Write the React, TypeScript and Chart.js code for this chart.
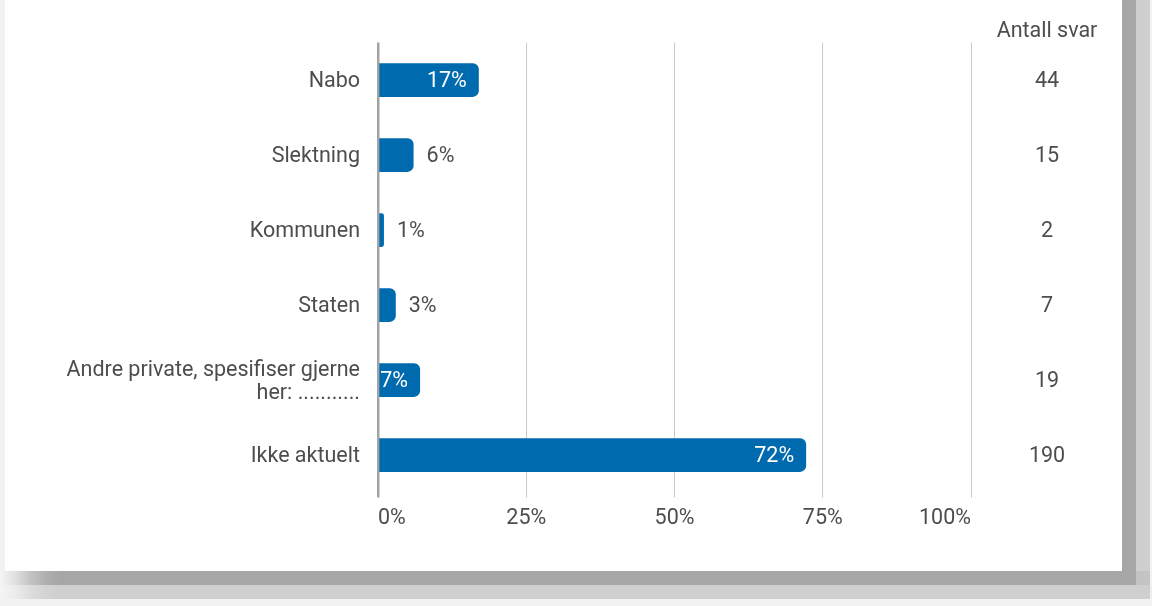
import React, { useEffect, useRef } from "react";
import { Chart, registerables } from "chart.js";

Chart.register(...registerables);

const categories: (string | string[])[] = [
  "Nabo",
  "Slektning",
  "Kommunen",
  "Staten",
  ["Andre private, spesifiser gjerne", "her: ..........."],
  "Ikke aktuelt",
];
const percentValues = [17.0, 6.0, 1.0, 3.0, 7.1, 72.2];
const percentLabels = ["17%", "6%", "1%", "3%", "7%", "72%"];
const answerCounts = [44, 15, 2, 7, 19, 190];
const countHeader = "Antall svar";
const xTicks = [0, 25, 50, 75, 100];

const TEXT = "#4d4d4d";
const BAR = "#006aae";
const FONT = "Roboto";
const FS = 21.5;
const DY = 2;

const labelPlugin = {
  id: "valueLabels",
  afterDatasetsDraw(chart: any) {
    const ctx = chart.ctx;
    const meta = chart.getDatasetMeta(0);
    ctx.save();
    ctx.font = `${FS}px ${FONT}`;
    ctx.textBaseline = "middle";
    meta.data.forEach((bar: any, i: number) => {
      const v = percentValues[i];
      const txt = percentLabels[i];
      const { x, y } = bar.getProps(["x", "y"], true);
      if (v >= 7) {
        ctx.fillStyle = "#ffffff";
        ctx.textAlign = "right";
        ctx.fillText(txt, x - 12, y + DY);
      } else {
        ctx.fillStyle = TEXT;
        ctx.textAlign = "left";
        ctx.fillText(txt, x + 13, y + DY);
      }
    });
    const ys = chart.scales.y;
    const cx = chart.chartArea.right + 76;
    ctx.fillStyle = TEXT;
    ctx.textAlign = "center";
    ctx.fillText(countHeader, cx, chart.chartArea.top - 13 + DY);
    answerCounts.forEach((c, i) => {
      ctx.fillText(String(c), cx, ys.getPixelForValue(i) + DY);
    });
    ctx.restore();
  },
};

function ChartView() {
  const ref = useRef<HTMLCanvasElement | null>(null);
  useEffect(() => {
    if (!ref.current) return;
    Chart.defaults.font.family = FONT;
    const chart = new Chart(ref.current, {
      type: "bar",
      data: {
        labels: categories as any,
        datasets: [
          {
            data: percentValues,
            backgroundColor: BAR,
            borderRadius: 6,
            borderSkipped: "start",
            barPercentage: 0.45,
            categoryPercentage: 1,
          },
        ],
      },
      options: {
        indexAxis: "y",
        animation: false,
        responsive: false,
        maintainAspectRatio: false,
        layout: { padding: { left: 0, right: 181, top: 42.5, bottom: 73.5 } },
        plugins: { legend: { display: false }, tooltip: { enabled: false } },
        scales: {
          x: {
            min: 0,
            max: 100,
            afterBuildTicks: (s: any) => {
              s.ticks = xTicks.map((v) => ({ value: v }));
            },
            afterFit: (s: any) => {
              s.height = 40;
            },
            ticks: {
              callback: (v: any) => v + "%",
              align: "inner",
              color: TEXT,
              font: { size: FS, family: FONT },
              padding: 8,
            },
            grid: {
              color: (c: any) => (c.tick && c.tick.value === 0 ? "#a3a3a3" : "#c8c8c8"),
              lineWidth: (c: any) => (c.tick && c.tick.value === 0 ? 2.5 : 1),
              drawTicks: true,
              tickLength: 5,
            },
            border: { display: false },
          },
          y: {
            afterFit: (s: any) => {
              s.width = 378;
            },
            ticks: {
              color: TEXT,
              font: { size: FS, family: FONT, lineHeight: 1.08 },
              padding: 18,
              labelOffset: DY,
            },
            grid: { display: false, drawTicks: false },
            border: { display: false },
          },
        },
      },
      plugins: [labelPlugin],
    });
    return () => chart.destroy();
  }, []);
  return (
    <canvas
      ref={ref}
      width={1152}
      height={606}
      style={{ position: "absolute", left: 0, top: 0, width: 1152, height: 606 }}
    />
  );
}

export default function App() {
  return (
    <div
      style={{
        position: "fixed",
        left: 0,
        top: 0,
        width: 1152,
        height: 606,
        background: "#f2f2f2",
        overflow: "hidden",
      }}
    >
      <div style={{ position: "absolute", left: 5, top: 0, width: 1117, height: 571, background: "#ffffff" }} />
      <div style={{ position: "absolute", left: 1122, top: 0, width: 14, height: 571, background: "#a6a6a6" }} />
      <div style={{ position: "absolute", left: 1136, top: 0, width: 14, height: 571, background: "#cfcfcf" }} />
      <div
        style={{
          position: "absolute",
          left: 0,
          top: 571,
          width: 1136,
          height: 14,
          background: "linear-gradient(to right, #f5f5f5 0px, #e0e0e0 15px, #c4c4c4 30px, #b0b0b0 45px, #a6a6a6 60px, #a6a6a6 100%)",
        }}
      />
      <div
        style={{
          position: "absolute",
          left: 0,
          top: 585,
          width: 1150,
          height: 14,
          background: "linear-gradient(to right, #f5f5f5 0px, #ececec 15px, #dddddd 30px, #d3d3d3 45px, #cfcfcf 60px, #cfcfcf 100%)",
        }}
      />
      <div style={{ position: "absolute", left: 1136, top: 571, width: 14, height: 14, background: "#c4c4c4" }} />
      <div style={{ position: "absolute", left: 1150, top: 585, width: 2, height: 14, background: "#eeeeee" }} />
      <ChartView />
    </div>
  );
}
